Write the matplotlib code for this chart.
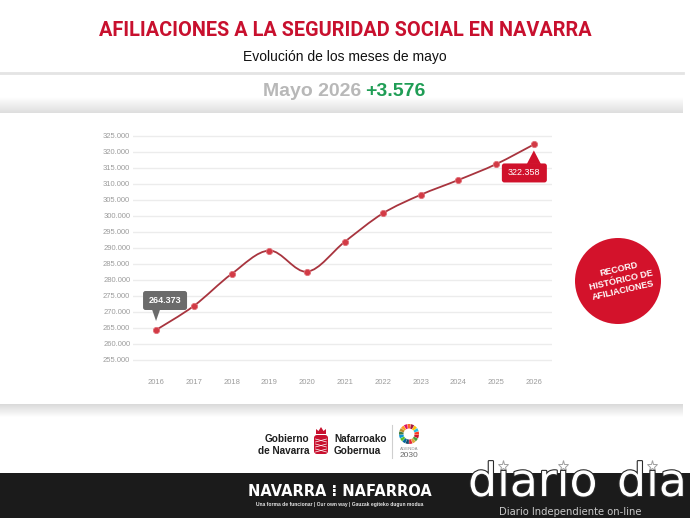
import matplotlib
matplotlib.use("Agg")
import matplotlib.pyplot as plt
import numpy as np
from matplotlib.path import Path
from matplotlib.patches import PathPatch, FancyBboxPatch, Polygon, Circle, Rectangle, Wedge
from matplotlib.colors import to_rgb
from matplotlib.ticker import FuncFormatter
from matplotlib import patheffects as pe

# ---------------- data ----------------
years = [2016, 2017, 2018, 2019, 2020, 2021, 2022, 2023, 2024, 2025, 2026]
afiliados = [264373, 271900, 281900, 289200, 282600, 292000, 300800, 306600, 311250, 316200, 322358]
y_ticks = list(range(255000, 325001, 5000))
first_label = "264.373"
last_label = "322.358"
title_text = "AFILIACIONES A LA SEGURIDAD SOCIAL EN NAVARRA"
subtitle_text = "Evolución de los meses de mayo"
month_text = "Mayo 2026"
change_text = "+3.576"
record_text = "RECORD\nHISTÓRICO DE\nAFILIACIONES"

W, H = 690, 518
NARROW = ['Liberation Sans Narrow', 'Liberation Sans', 'DejaVu Sans']
SANS = ['Liberation Sans', 'DejaVu Sans']
TITLE = ['Roboto', 'Liberation Sans', 'DejaVu Sans']

fig = plt.figure(figsize=(W / 100, H / 100), dpi=100)
fig.patch.set_facecolor('white')

# background (pixel coordinates, y downwards)
bg = fig.add_axes([0, 0, 1, 1], zorder=0)
bg.axis('off')


def vgrad(ax, y0, y1, c0, c1, x0=0, x1=683, z=1):
    g = np.linspace(0, 1, 64)[:, None, None]
    a = np.array(to_rgb(c0))[None, None, :]
    b = np.array(to_rgb(c1))[None, None, :]
    img = a * (1 - g) + b * g
    ax.imshow(img, extent=(x0, x1, y1, y0), origin='upper', aspect='auto',
              interpolation='bilinear', zorder=z)


vgrad(bg, 97, 113, '#ffffff', '#dedede')
vgrad(bg, 404, 417, '#d9d9d9', '#ffffff')
bg.plot([0, 683], [73, 73], color='#e4e4e4', lw=2, zorder=2)

# footer band
bg.add_patch(Rectangle((0, 473), W, H - 473, fc='#1b1b1b', ec='none', zorder=2))
bg.set_xlim(0, W)
bg.set_ylim(H, 0)

# titles
bg.text(345, 30, title_text, color='#c8102e', fontsize=14.3, fontweight='bold',
        family=TITLE, ha='center', va='center')
bg.text(345, 57, subtitle_text, color='#111111', fontsize=10,
        family=NARROW, ha='center', va='center')
bg.text(361, 92, month_text, color='#b8b8b8', fontsize=14, fontweight='bold',
        family=NARROW, ha='right', va='center')
bg.text(365, 92, change_text, color='#1f9d55', fontsize=14, fontweight='bold',
        family=NARROW, ha='left', va='center')

# ---------------- chart ----------------
ax = fig.add_axes([133 / W, 1 - 366.4 / H, 419 / W, (366.4 - 129.6) / H], zorder=2)
ax.patch.set_alpha(0)
ax.set_xlim(2015.39, 2026.48)
ax.set_ylim(253000, 327000)
for s in ax.spines.values():
    s.set_visible(False)
ax.set_yticks(y_ticks)
ax.set_xticks(years)
ax.yaxis.set_major_formatter(FuncFormatter(lambda v, p: f"{v:,.0f}".replace(",", ".")))
ax.yaxis.grid(True, color='#ececec', lw=1)
ax.set_axisbelow(True)
ax.tick_params(axis='both', length=0, labelsize=5.5, labelcolor='#9c9c9c')
ax.tick_params(axis='y', pad=2)
ax.tick_params(axis='x', pad=9)
for lab in ax.get_xticklabels() + ax.get_yticklabels():
    lab.set_family(NARROW)

# smooth line (Catmull-Rom as cubic Bezier in data coordinates)
xs = np.array(years, float)
ys = np.array(afiliados, float)
px = np.concatenate([[xs[0]], xs, [xs[-1]]])
py = np.concatenate([[ys[0]], ys, [ys[-1]]])
verts = [(xs[0], ys[0])]
codes = [Path.MOVETO]
for i in range(len(xs) - 1):
    p0 = np.array([px[i], py[i]])
    p1 = np.array([px[i + 1], py[i + 1]])
    p2 = np.array([px[i + 2], py[i + 2]])
    p3 = np.array([px[i + 3], py[i + 3]])
    c1 = p1 + (p2 - p0) / 6
    c2 = p2 - (p3 - p1) / 6
    verts += [tuple(c1), tuple(c2), tuple(p2)]
    codes += [Path.CURVE4] * 3
ax.add_patch(PathPatch(Path(verts, codes), fill=False, ec='#a8343e', lw=1.3, zorder=2))
ax.plot(years, afiliados, linestyle='none', marker='o', ms=4.5, color='#d23a45',
        mec='#e2727a', mew=0.6, zorder=3)

# ---------------- overlay ----------------
ov = fig.add_axes([0, 0, 1, 1], zorder=3)
ov.patch.set_alpha(0)
ov.axis('off')
ov.set_xlim(0, W)
ov.set_ylim(H, 0)


def to_px(x, y):
    dx, dy = ax.transData.transform((x, y))
    return dx, H - dy


gx, gy = to_px(years[0], afiliados[0])
ov.add_patch(FancyBboxPatch((gx - 13, gy - 39), 44, 19,
                            boxstyle='round,pad=0,rounding_size=2.5',
                            fc='#6b6b6b', ec='none', zorder=5))
ov.add_patch(Polygon([(gx - 4, gy - 20.5), (gx + 4, gy - 20.5), (gx, gy - 9)],
                     closed=True, fc='#6b6b6b', ec='none', zorder=5))
ov.text(gx + 9, gy - 29.5, first_label, color='white', fontsize=6.5, fontweight='bold',
        family=NARROW, ha='center', va='center', zorder=6)

rx, ry = to_px(years[-1], afiliados[-1])
ov.add_patch(FancyBboxPatch((rx - 32, ry + 19), 45, 19,
                            boxstyle='round,pad=0,rounding_size=2.5',
                            fc='#d0112b', ec='none', zorder=5))
ov.add_patch(Polygon([(rx - 7, ry + 19.5), (rx + 7, ry + 19.5), (rx, ry + 6)],
                     closed=True, fc='#d0112b', ec='none', zorder=5))
ov.text(rx - 9.5, ry + 28.5, last_label, color='white', fontsize=6.5,
        family=NARROW, ha='center', va='center', zorder=6)

# record badge
ov.add_patch(Circle((618, 281), 43, fc='#d3122b', ec='none', zorder=4))
ov.text(621, 280, record_text, color='white', fontsize=6.5, fontweight='bold',
        family=SANS, ha='center', va='center', rotation=13, linespacing=1.3,
        multialignment='center', zorder=5)

# ---------------- logos ----------------
ov.text(309, 445, "Gobierno\nde Navarra", color='#1e1e1e', fontsize=7.2, fontweight='bold',
        family=SANS, ha='right', va='center', linespacing=1.15, multialignment='right')
ov.text(334, 445, "Nafarroako\nGobernua", color='#1e1e1e', fontsize=7.2, fontweight='bold',
        family=SANS, ha='left', va='center', linespacing=1.15)
crest_red = '#c8102e'
ov.add_patch(FancyBboxPatch((314, 435), 14, 19, boxstyle='round,pad=0,rounding_size=3',
                            fc=crest_red, ec='none'))
ov.add_patch(Polygon([(316, 434), (316, 429), (318.5, 431), (321, 427), (323.5, 431),
                      (326, 429), (326, 434)], closed=True, fc=crest_red, ec='none'))
for yy in (439, 444, 449):
    ov.plot([315.5, 326.5], [yy, yy + 3], color='white', lw=0.5)
    ov.plot([315.5, 326.5], [yy + 3, yy], color='white', lw=0.5)
ov.plot([392, 392], [425, 458], color='#cfcfcf', lw=0.8)
sdg = ['#E5243B', '#DDA63A', '#4C9F38', '#C5192D', '#FF3A21', '#26BDE2', '#FCC30B',
       '#A21942', '#FD6925', '#DD1367', '#FD9D24', '#BF8B2E', '#3F7E44', '#0A97D9',
       '#56C02B', '#00689D', '#19486A']
for k, c in enumerate(sdg):
    a0 = 90 - (k + 1) * 360 / 17
    ov.add_patch(Wedge((409, 434), 10, a0 + 1, a0 + 360 / 17 - 1, width=4.5, fc=c, ec='none'))
ov.text(409, 449, "AGENDA", color='#8a8a8a', fontsize=3.2, family=SANS, ha='center', va='center')
ov.text(409, 455.5, "2030", color='#6a6a6a', fontsize=6, family=SANS, ha='center', va='center')

# footer texts
ov.text(340, 492, "NAVARRA ⁝ NAFARROA", color='white', fontsize=10.5, fontweight='bold',
        family=['DejaVu Sans'], ha='center', va='center')
ov.text(340, 504.5, "Una forma de funcionar | Our own way | Gauzak egiteko dugun modua",
        color='#e6e6e6', fontsize=3.6, fontweight='bold', family=SANS, ha='center', va='center')

stroke = [pe.withStroke(linewidth=1.6, foreground='#2a2a2a')]
for xpos, part in ((468, "dıarıo"), (617, "dıa")):
    ov.text(xpos, 496, part, color='white', fontsize=33,
            family=['DejaVu Sans'], ha='left', va='baseline', path_effects=stroke)
ov.plot([503, 563, 652], [466, 466, 466], linestyle='none', marker='*', ms=8,
        mfc='none', mec='#a0a0a0', mew=0.7)
ov.text(570, 512, "Diario Independiente on-line", color='#c8c8c8', fontsize=7.2,
        family=['DejaVu Sans'], ha='center', va='center')

fig.savefig("out.png", dpi=100, facecolor='white')
